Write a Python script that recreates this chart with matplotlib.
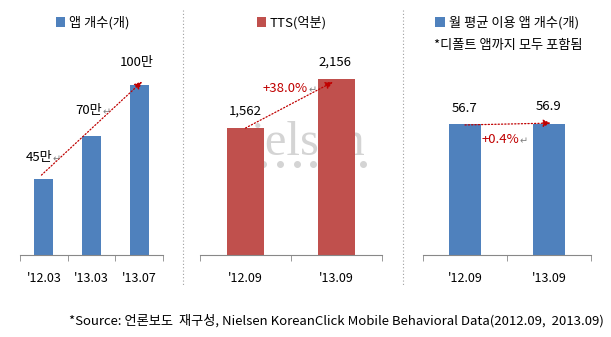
import matplotlib
matplotlib.use("Agg")
import matplotlib.pyplot as plt
from matplotlib.lines import Line2D
import numpy as np

plt.rcParams['font.family'] = ['Noto Sans CJK KR', 'DejaVu Sans']

# data
app_periods = ["'12.03", "'13.03", "'13.07"]
app_counts = [45, 70, 100]
app_labels = ['45만', '70만', '100만']

tts_periods = ["'12.09", "'13.09"]
tts_values = [1562, 2156]
tts_labels = ['1,562', '2,156']

use_periods = ["'12.09", "'13.09"]
use_values = [56.7, 56.9]
use_labels = ['56.7', '56.9']

BLUE = '#4F81BD'
RED = '#C0504D'
ARROW = '#C00000'
W, H = 611, 337

fig = plt.figure(figsize=(W / 100, H / 100), dpi=100)


def px_axes(x0, x1, ytop, ybot):
    return fig.add_axes([x0 / W, 1 - ybot / H, (x1 - x0) / W, (ybot - ytop) / H])


def style(ax, cats, ymax):
    n = len(cats)
    ax.set_xlim(-0.5, n - 0.5)
    ax.set_ylim(0, ymax)
    for s in ['top', 'right', 'left']:
        ax.spines[s].set_visible(False)
    ax.spines['bottom'].set_color('#888888')
    ax.set_yticks([])
    ax.set_xticks(range(n))
    ax.set_xticklabels(cats, fontsize=9)
    ax.tick_params(axis='x', which='major', length=0, pad=12)
    ax.set_xticks([i - 0.5 for i in range(n + 1)], minor=True)
    ax.tick_params(axis='x', which='minor', length=4, color='#888888', direction='out')
    ax.patch.set_alpha(0)


def mark(ax, txt, xy):
    t = ax.annotate(txt, xy, ha='center', va='center', fontsize=9.5)
    return t


def enter(ax, t):
    ax.annotate('↵', xy=(1.0, 0.35), xycoords=t, ha='left', va='center',
                fontsize=7, color='#808080')


def arrow(ax, p0, p1):
    ax.annotate('', xy=p1, xytext=p0,
                arrowprops=dict(arrowstyle='-|>', color=ARROW, lw=0.9,
                                linestyle=':', mutation_scale=11, shrinkA=0, shrinkB=0))


# watermark (behind the red bars)
fig.text(297 / W, 1 - 143 / H, 'nielsen', ha='center', va='center', fontsize=35,
         family='Liberation Serif', color='#D4D4D4', zorder=-5)
dot_x = np.linspace(230, 363, 9) / W
fig.add_artist(Line2D(dot_x, [1 - 164 / H] * 9, linestyle='none', marker='o',
                      markersize=4, color='#D4D4D4', zorder=-5))

# panel 1: app count
ax1 = px_axes(20, 163, 30, 255)
ax1.bar(range(3), app_counts, width=0.4, color=BLUE, label='앱 개수(개)')
style(ax1, app_periods, 225 / 1.7)
arrow(ax1, (-0.05, 47), (2.06, 102))
t = mark(ax1, app_labels[0], (-0.1, 57.6))
enter(ax1, t)
t = mark(ax1, app_labels[1], (0.95, 85))
enter(ax1, t)
mark(ax1, app_labels[2], (1.95, 113))

# panel 2: TTS
ax2 = px_axes(200, 382, 30, 255)
ax2.bar(range(2), tts_values, width=0.4, color=RED, label='TTS(억분)')
style(ax2, tts_periods, 225 / 0.0815)
arrow(ax2, (0.0, 1558), (0.96, 2123))
mark(ax2, tts_labels[0], (0.0, 1767))
mark(ax2, tts_labels[1], (0.98, 2368))
t = ax2.annotate('+38.0%', (0.44, 2049), ha='center', va='center', fontsize=9.5, color=ARROW)
enter(ax2, t)

# panel 3: monthly apps used
ax3 = px_axes(423, 591, 30, 255)
ax3.bar(range(2), use_values, width=0.39, color=BLUE, label='월 평균 이용 앱 개수(개)')
style(ax3, use_periods, 225 / 2.31)
arrow(ax3, (0.0, 56.3), (1.02, 57.1))
mark(ax3, use_labels[0], (0.0, 63.6))
mark(ax3, use_labels[1], (0.99, 64.1))
t = ax3.annotate('+0.4%', (0.42, 50.2), ha='center', va='center', fontsize=9.5, color=ARROW)
enter(ax3, t)

# legends
for ax, cx in [(ax1, 93), (ax2, 292), (ax3, 507)]:
    ax.legend(loc='center', bbox_to_anchor=(cx / W, 1 - 23 / H), bbox_transform=fig.transFigure,
              frameon=False, fontsize=9.5, handlelength=0.7, handleheight=0.7,
              handletextpad=0.3, borderpad=0)
fig.text(508 / W, 1 - 45 / H, '*디폴트 앱까지 모두 포함됨', ha='center', va='center', fontsize=9.5)

# separators
for x in [183, 403]:
    fig.add_artist(Line2D([x / W, x / W], [1 - 10 / H, 1 - 285 / H], color='#A0A0A0',
                          lw=0.8, linestyle=(0, (1, 2))))

fig.text(604 / W, 1 - 321 / H,
         '*Source: 언론보도  재구성, Nielsen KoreanClick Mobile Behavioral Data(2012.09,  2013.09)',
         ha='right', va='center', fontsize=9.5)

fig.savefig('out.png', dpi=100)
